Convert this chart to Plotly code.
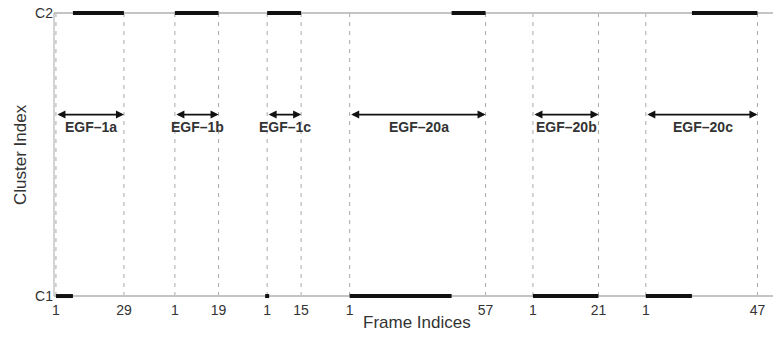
import plotly.graph_objects as go

# ---------------- data ----------------
segment_names = ["EGF–1a", "EGF–1b", "EGF–1c", "EGF–20a", "EGF–20b", "EGF–20c"]
frame_counts = [29, 19, 15, 57, 21, 47]          # last frame index shown for each sequence
cluster_labels = ["C1", "C2"]
# runs of frames (start, end) assigned to each cluster, per sequence
c1_runs = [[(1, 8)], [], [(1, 1)], [(1, 43)], [(1, 21)], [(1, 20)]]
c2_runs = [[(8, 29)], [(1, 19)], [(1, 15)], [(43, 57)], [], [(20, 47)]]

# ---------------- layout helpers ----------------
axis_spans = [29, 19, 15, 57, 28, 47]   # width each sequence takes on the axis (frame units)
gaps = [21, 20, 20, 19.5, 19.5]         # spacing between sequences (frame units)

starts = []
pos = 0.0
for i, span in enumerate(axis_spans):
    starts.append(pos)
    pos += span - 1
    if i < len(gaps):
        pos += gaps[i]
ends = [s + sp - 1 for s, sp in zip(starts, axis_spans)]


def fx(seg, frame):
    n = frame_counts[seg]
    return starts[seg] + (frame - 1) * (axis_spans[seg] - 1) / (n - 1)


fig = go.Figure()

GRID = "#c4c4c4"
DASH = "#a8a8a8"
TXT = "#333333"

# vertical dashed boundaries
for s, e in zip(starts, ends):
    for xv in (s, e):
        fig.add_shape(type="line", x0=xv, x1=xv, y0=1, y1=2, xref="x", yref="y",
                      line=dict(color=DASH, width=1, dash="4px,5px"), layer="below")

# left axis line
fig.add_shape(type="line", x0=0, x1=0, y0=1, y1=2, xref="paper", yref="y",
              line=dict(color=GRID, width=1.5))

# cluster runs
for level, runs_all in ((1, c1_runs), (2, c2_runs)):
    for seg, runs in enumerate(runs_all):
        for a, b in runs:
            if a == b:
                fig.add_trace(go.Scatter(x=[fx(seg, a)], y=[level], mode="markers",
                                         marker=dict(symbol="square", size=4, color="#111111"),
                                         showlegend=False, hoverinfo="skip", cliponaxis=False))
            else:
                fig.add_trace(go.Scatter(x=[fx(seg, a), fx(seg, b)], y=[level, level],
                                         mode="lines", line=dict(color="#111111", width=4),
                                         showlegend=False, hoverinfo="skip"))

# arrows + labels
ARROW_Y = 1.641
LABEL_Y = 1.598
for seg, name in enumerate(segment_names):
    s, e = starts[seg], ends[seg]
    fig.add_annotation(x=e, y=ARROW_Y, ax=s, ay=ARROW_Y, xref="x", yref="y", axref="x", ayref="y",
                       text="", showarrow=True, arrowhead=2, arrowside="end+start",
                       arrowsize=1.0, arrowwidth=1.6, arrowcolor="#111111")
    fig.add_annotation(x=(s + e) / 2, y=LABEL_Y, xref="x", yref="y", text="<b>%s</b>" % name,
                       showarrow=False, xshift=1,
                       font=dict(family="Liberation Sans, Arial, sans-serif", size=14, color=TXT))

# tick values / labels
tickvals, ticktext = [], []
for seg, n in enumerate(frame_counts):
    tickvals += [fx(seg, 1), fx(seg, n)]
    ticktext += ["1", str(n)]

fig.update_layout(
    width=773, height=337,
    margin=dict(l=54, r=0, t=9, b=37),
    paper_bgcolor="white", plot_bgcolor="white",
    font=dict(family="Liberation Sans, Arial, sans-serif", size=13, color=TXT),
    xaxis=dict(range=[-0.8, 295.4], tickmode="array", tickvals=tickvals, ticktext=ticktext,
               showgrid=False, zeroline=False, showline=False, ticks="",
               tickfont=dict(size=14, color=TXT), automargin=False),
    yaxis=dict(range=[0.986, 2.014], tickmode="array", tickvals=[1, 2], ticktext=cluster_labels,
               showgrid=True, gridcolor=GRID, gridwidth=1.5, zeroline=False, showline=False,
               ticks="", tickfont=dict(size=14, color=TXT), automargin=False),
)

fig.add_annotation(text="Frame Indices", xref="paper", yref="paper", x=0.505, y=0,
                   yshift=-34, showarrow=False, yanchor="bottom",
                   font=dict(size=17, color=TXT))
fig.add_annotation(text="Cluster Index", xref="paper", yref="paper", x=0, y=0.5,
                   xshift=-45, textangle=-90, showarrow=False,
                   font=dict(size=17, color=TXT))

fig.write_html("out.html", config={"displayModeBar": False},
               post_script="document.body.style.margin='0px';document.body.style.overflow='hidden';")
